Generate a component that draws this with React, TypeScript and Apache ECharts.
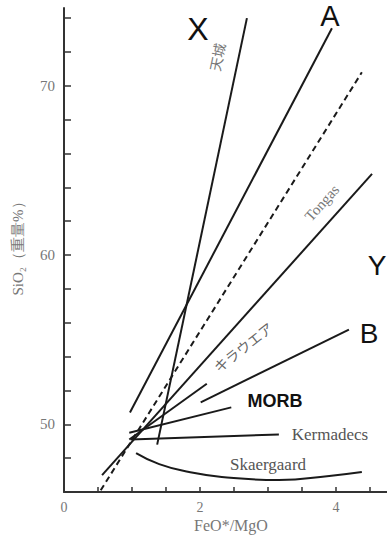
import React, { useEffect, useRef } from "react";
import * as echarts from "echarts";

// Data (x = FeO*/MgO, y = SiO2 wt%)
const tenjoLine = [[1.37, 48.8], [2.69, 74.0]];
const lineA = [[0.97, 50.7], [3.94, 73.4]];
const dashedLine = [[0.54, 46.1], [4.38, 70.8]];
const tongasLine = [[0.56, 47.0], [4.53, 64.8]];
const kilaueaLine = [[0.96, 49.1], [2.1, 52.4]];
const lineB = [[2.01, 51.3], [4.19, 55.6]];
const morbLine = [[0.96, 49.5], [2.46, 51.0]];
const kermadecsLine = [[0.98, 49.1], [3.16, 49.4]];
const skaergaardCurve = [
  [1.06, 48.3],
  [1.4, 47.65],
  [1.84, 47.18],
  [2.32, 46.89],
  [3.16, 46.71],
  [3.9, 46.95],
  [4.38, 47.18],
];
const xTickLabels = [0, 2, 4];
const yTickLabels = [50, 60, 70];

const SERIF = "'Liberation Serif', 'DejaVu Serif', serif";
const SANS = "'Liberation Sans', Arial, sans-serif";
const CJK = "'Noto Sans CJK JP', sans-serif";

export default function App() {
  const ref = useRef<HTMLDivElement>(null);
  useEffect(() => {
    if (!ref.current) return;
    const chart = echarts.init(ref.current, null, { renderer: "svg" });
    const solid = (data: number[][], smooth = false) => ({
      type: "line",
      data,
      showSymbol: false,
      symbol: "none",
      smooth,
      lineStyle: { color: "#1a1a1a", width: 2 },
      silent: true,
    });
    const deg = (d: number) => (d * Math.PI) / 180;
    const txt = (
      text: string,
      x: number,
      y: number,
      font: string,
      fill: string,
      rotation = 0
    ) => ({
      type: "text",
      x,
      y,
      rotation,
      style: {
        text,
        font,
        fill,
        textAlign: "center",
        align: "center",
        verticalAlign: "middle",
        textVerticalAlign: "middle",
      },
    });
    chart.setOption({
      animation: false,
      backgroundColor: "#ffffff",
      grid: { left: 64, right: 0, top: 8, bottom: 47, containLabel: false },
      xAxis: {
        type: "value",
        min: 0,
        max: 4.75,
        interval: 0.5,
        splitLine: { show: false },
        axisLine: { lineStyle: { color: "#333", width: 2 } },
        axisTick: { inside: true, length: 5, lineStyle: { color: "#333", width: 1.5 } },
        axisLabel: {
          margin: 8,
          color: "#777",
          fontFamily: SERIF,
          fontSize: 14,
          showMaxLabel: false,
          formatter: (v: number) => (xTickLabels.includes(v) ? String(v) : ""),
        },
      },
      yAxis: {
        type: "value",
        min: 46,
        max: 74.6,
        interval: 2,
        splitLine: { show: false },
        axisLine: { lineStyle: { color: "#333", width: 2 } },
        axisTick: { inside: true, length: 7, lineStyle: { color: "#333", width: 1.5 } },
        axisLabel: {
          margin: 9,
          color: "#777",
          fontFamily: SERIF,
          fontSize: 15,
          showMaxLabel: false,
          formatter: (v: number) => (yTickLabels.includes(v) ? String(v) : ""),
        },
      },
      series: [
        solid(tenjoLine),
        solid(lineA),
        {
          ...solid(dashedLine),
          lineStyle: { color: "#1a1a1a", width: 2, type: [6, 4] },
        },
        solid(tongasLine),
        solid(kilaueaLine),
        solid(lineB),
        solid(morbLine),
        solid(kermadecsLine),
        solid(skaergaardCurve, true),
      ],
      graphic: [
        txt("X", 198, 29, `32px ${SANS}`, "#111"),
        txt("A", 330, 16, `29px ${SANS}`, "#111"),
        txt("Y", 377, 265, `28px ${SANS}`, "#111"),
        txt("B", 369, 333, `28px ${SANS}`, "#111"),
        txt("MORB", 275, 401, `bold 18px ${SANS}`, "#111"),
        txt("Kermadecs", 330, 434, `17px ${SERIF}`, "#555"),
        txt("Skaergaard", 268, 464, `17px ${SERIF}`, "#555"),
        txt("Tongas", 322, 203, `15px ${SERIF}`, "#777", deg(48)),
        txt("キラウエア", 243, 347, `14px ${CJK}`, "#666", deg(38)),
        txt("天城", 217, 57, `14px ${CJK}`, "#777", deg(78)),
        txt("SiO₂（重量%）", 18, 245, `15px ${SERIF}`, "#777", deg(90)),
        txt("FeO*/MgO", 231, 525, `16px ${SERIF}`, "#777"),
      ],
    });
    return () => chart.dispose();
  }, []);
  return (
    <div
      ref={ref}
      style={{ position: "fixed", left: 0, top: 0, width: 387, height: 539, background: "#fff" }}
    />
  );
}
